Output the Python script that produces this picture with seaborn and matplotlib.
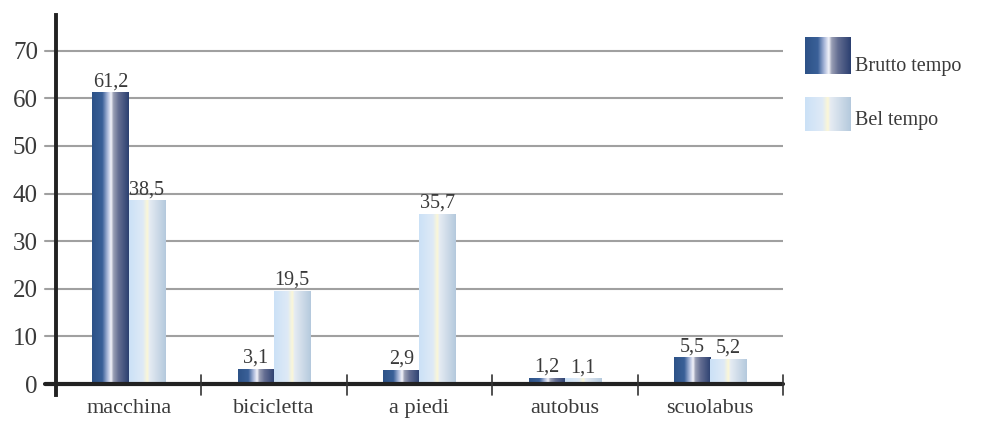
import matplotlib
matplotlib.use('Agg')
import matplotlib.pyplot as plt
import matplotlib.colors as mcolors
import seaborn as sns
import pandas as pd
import numpy as np

# dati
mezzi = ['macchina', 'bicicletta', 'a piedi', 'autobus', 'scuolabus']
brutto_tempo = [61.2, 3.1, 2.9, 1.2, 5.5]
bel_tempo = [38.5, 19.5, 35.7, 1.1, 5.2]
serie = ['Brutto tempo', 'Bel tempo']
y_ticks = [0, 10, 20, 30, 40, 50, 60, 70]

df = pd.DataFrame({
    'mezzo': mezzi * 2,
    'valore': brutto_tempo + bel_tempo,
    'tempo': [serie[0]] * len(mezzi) + [serie[1]] * len(mezzi),
})

# gradienti orizzontali delle barre
grad_scuro = [(0.0, '#2d5287'), (0.28, '#3a6098'), (0.42, '#aab8da'), (0.52, '#f4f5fb'),
              (0.58, '#9a9fb5'), (0.72, '#646e92'), (1.0, '#2b3f70')]
grad_chiaro = [(0.0, '#cbe1f7'), (0.38, '#dfeaf6'), (0.5, '#fcf7d6'), (0.55, '#e6ecf3'),
               (1.0, '#b4c9dd')]


def make_grad(stops, n=256):
    cmap = mcolors.LinearSegmentedColormap.from_list('g', stops)
    return cmap(np.linspace(0, 1, n))[None, :, :]


img_scuro = make_grad(grad_scuro)
img_chiaro = make_grad(grad_chiaro)

sns.set_style('white')
plt.rcParams['font.family'] = ['Liberation Serif', 'DejaVu Serif']
testo = '#3a3a3a'

fig = plt.figure(figsize=(10.03, 4.21), dpi=100)
W, H = 1003, 421
ax = fig.add_axes([56 / W, (H - 395) / H, (783 - 56) / W, 380 / H])

sns.barplot(data=df, x='mezzo', y='valore', hue='tempo', order=mezzi, hue_order=serie,
            width=0.5, palette=['#2d5287', '#cbe1f7'], saturation=1, ax=ax, legend=False,
            errorbar=None, zorder=3)

# gradienti al posto del colore pieno (patch: prima tutte le "Brutto", poi le "Bel")
for i, p in enumerate(list(ax.patches)):
    x0, w, h = p.get_x(), p.get_width(), p.get_height()
    img = img_scuro if i < len(mezzi) else img_chiaro
    ax.imshow(img, extent=(x0, x0 + w, 0, h), aspect='auto', zorder=3,
              interpolation='bilinear')
    p.set_visible(False)
    ax.text(x0 + w / 2, h + 0.3, f'{h:.1f}'.replace('.', ','), ha='center', va='bottom',
            fontsize=14.5, color=testo, zorder=5)

ax.set_xlim(-0.5, len(mezzi) - 0.5)
ax.set_ylim(-2.3, 77.5)

# griglia
for v in y_ticks[1:]:
    ax.axhline(v, color='#a0a0a0', lw=1.5, zorder=1)
    ax.plot([-11 / 727, 0], [v, v], transform=ax.get_yaxis_transform(), color='#a0a0a0',
            lw=1.5, clip_on=False)
# asse x
ax.plot([-11 / 727, 1], [0, 0], transform=ax.get_yaxis_transform(), color='#222222',
        lw=3, clip_on=False, zorder=4)
for i in range(1, len(mezzi) + 1):
    ax.plot([i - 0.5, i - 0.5], [-2.3, 1.9], color='#333333', lw=1.2, zorder=4, clip_on=False)

for s in ['top', 'right', 'bottom']:
    ax.spines[s].set_visible(False)
ax.spines['left'].set_color('#222222')
ax.spines['left'].set_linewidth(2.8)
ax.spines['left'].set_zorder(6)

ax.set_yticks(y_ticks)
ax.set_yticklabels([str(v) for v in y_ticks], fontsize=18, color=testo)
ax.tick_params(axis='y', length=0, pad=13)
ax.set_xticks(range(len(mezzi)))
ax.set_xticklabels(mezzi, fontsize=16, color=testo)
ax.tick_params(axis='x', length=0, pad=3)
ax.set_xlabel('')
ax.set_ylabel('')

# legenda
for img, y_top, y_bot, nome, ty in [(img_scuro, 37, 74, serie[0], 67),
                                    (img_chiaro, 97, 131, serie[1], 120)]:
    lax = fig.add_axes([805 / W, (H - y_bot) / H, 46 / W, (y_bot - y_top) / H])
    lax.imshow(img, aspect='auto', interpolation='bilinear')
    lax.axis('off')
    fig.text(855 / W, (H - ty) / H, nome, fontsize=14.5, color=testo, va='center', ha='left')

fig.savefig('out.png', dpi=100)
